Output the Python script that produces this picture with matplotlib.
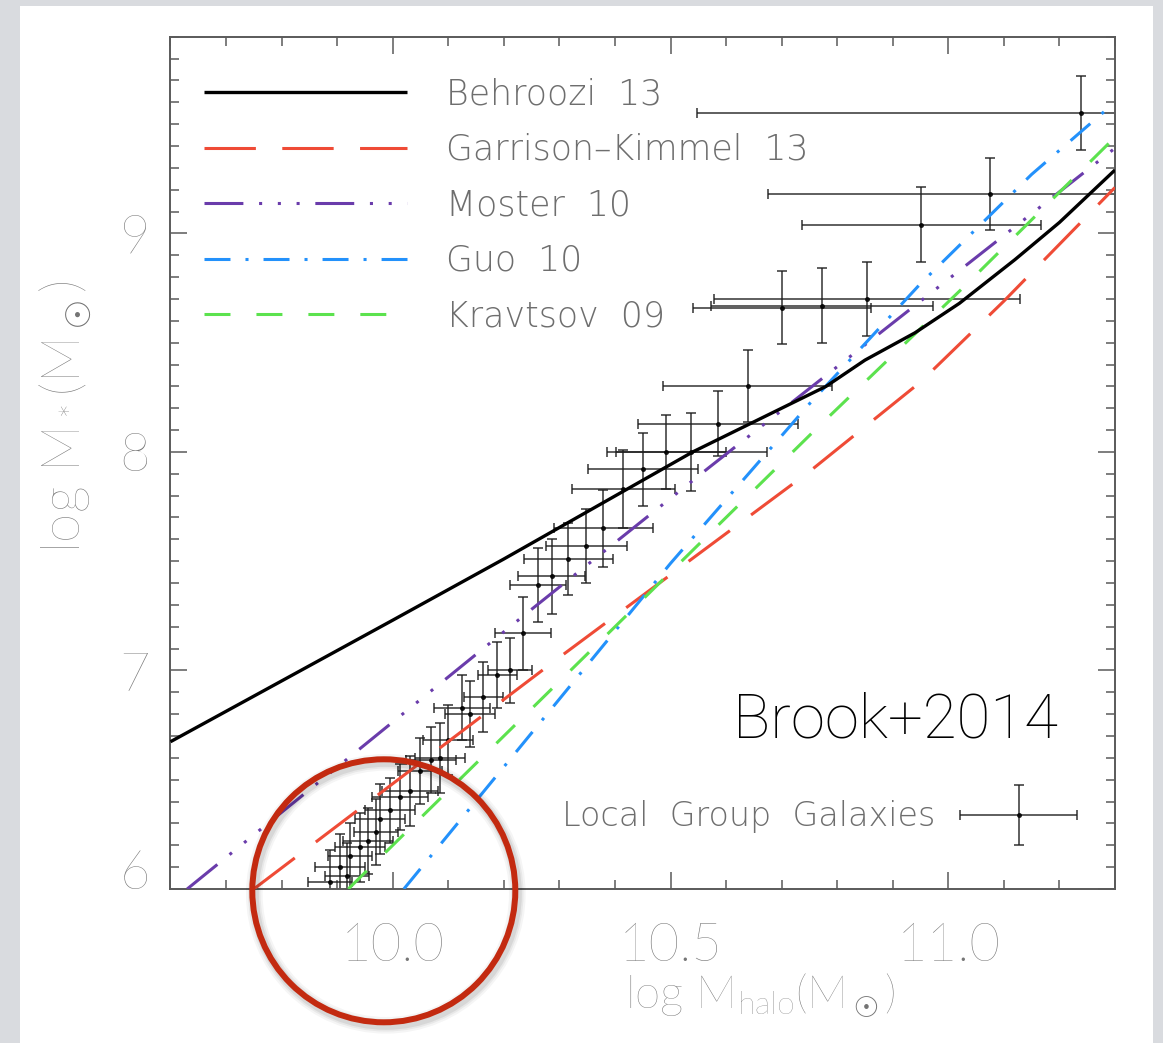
import matplotlib.pyplot as plt
from matplotlib.patches import Circle, Rectangle
from matplotlib.legend_handler import HandlerErrorbar
from matplotlib.container import ErrorbarContainer
from matplotlib.ticker import MultipleLocator

plt.rcParams['lines.scale_dashes'] = False
plt.rcParams['mathtext.fontset'] = 'custom'
plt.rcParams['mathtext.rm'] = 'Lato:light'
plt.rcParams['mathtext.it'] = 'Lato:light'

# abundance matching relations, log M_halo -> log M_star
behroozi_x = [9.6, 10.0, 10.2, 10.54, 10.78, 10.85, 10.94, 11.02, 11.12, 11.2, 11.3]
behroozi_y = [6.674, 7.23, 7.51, 8.0, 8.3, 8.42, 8.545, 8.68, 8.88, 9.05, 9.29]

gk_x = [9.75, 10.3, 10.75, 10.95, 11.1, 11.3]
gk_y = [6.0, 7.06, 7.91, 8.32, 8.69, 9.21]

moster_x = [9.63, 10.25, 10.57, 10.72, 11.04, 11.3]
moster_y = [6.0, 7.28, 7.93, 8.23, 8.87, 9.39]

guo_x = [10.02, 10.5, 10.75, 10.95, 11.15, 11.3]
guo_y = [6.0, 7.49, 8.22, 8.77, 9.27, 9.6]

kravtsov_x = [9.92, 10.4, 10.76, 11.03, 11.3]
kravtsov_y = [6.0, 7.2, 8.1, 8.76, 9.44]

# Local Group galaxies
lg_mhalo = [11.238, 11.075, 10.951, 10.854, 10.773, 10.701, 10.639, 10.586,
            10.537, 10.492, 10.451, 10.415, 10.379, 10.348, 10.316, 10.286,
            10.261, 10.234, 10.211, 10.188, 10.163, 10.139, 10.125, 10.100,
            10.085, 10.069, 10.049, 10.031, 10.013, 9.995, 9.977, 9.970,
            9.956, 9.941, 9.923, 9.905, 9.918, 9.887]
lg_mstar = [9.55, 9.18, 9.04, 8.70, 8.67, 8.66, 8.30, 8.13,
            8.00, 8.00, 7.92, 7.83, 7.65, 7.57, 7.51, 7.43,
            7.39, 7.17, 7.00, 6.98, 6.88, 6.80, 6.83, 6.68,
            6.60, 6.59, 6.54, 6.45, 6.42, 6.36, 6.32, 6.26,
            6.22, 6.19, 6.15, 6.10, 6.06, 6.03]
lg_mhalo_err = [0.69, 0.40, 0.215, 0.275, 0.20, 0.16, 0.152, 0.144,
                0.136, 0.107, 0.099, 0.093, 0.089, 0.073, 0.08, 0.06,
                0.05, 0.05, 0.04, 0.035, 0.035, 0.045, 0.05, 0.045,
                0.045, 0.045, 0.04, 0.05, 0.05, 0.045, 0.045, 0.04,
                0.045, 0.045, 0.04, 0.045, 0.04, 0.04]
lg_mstar_err = [0.17, 0.166, 0.17, 0.17, 0.17, 0.168, 0.165, 0.15,
                0.18, 0.168, 0.168, 0.179, 0.175, 0.17, 0.165, 0.17,
                0.17, 0.168, 0.15, 0.15, 0.16, 0.15, 0.15, 0.16,
                0.16, 0.15, 0.15, 0.16, 0.15, 0.15, 0.16, 0.15,
                0.15, 0.16, 0.15, 0.15, 0.15, 0.15]

THIN = ['Lato', 'DejaVu Sans']
KEYFONT = ['DejaVu Sans']
GREY_TXT = '#747474'
KEY_TXT = '#6e6e6e'
AXCOL = '#5a5a5a'

fig = plt.figure(figsize=(11.63, 10.43), dpi=100)
fig.patch.set_facecolor('#d9dbdf')
fig.add_artist(Rectangle((20 / 1163, 0), 1133 / 1163, 1037 / 1043,
                         transform=fig.transFigure, facecolor='white',
                         edgecolor='none', zorder=0))

ax = fig.add_axes([0.1466, 0.14765, 0.8121, 0.81716])
ax.set_xlim(9.6, 11.3)
ax.set_ylim(6.0, 9.9)

eb = ax.errorbar(lg_mhalo, lg_mstar, xerr=lg_mhalo_err, yerr=lg_mstar_err,
                 fmt='o', ms=2.6, color='black', ecolor='#1e1e1e',
                 elinewidth=1.25, capsize=3.6, capthick=1.25, alpha=0.8,
                 zorder=2)

l_beh, = ax.plot(behroozi_x, behroozi_y, color='black', lw=2.4,
                 solid_capstyle='butt', zorder=4)
l_gk, = ax.plot(gk_x, gk_y, color='#ef4b36', lw=2.2, dashes=(37, 19),
                dash_capstyle='butt', zorder=3)
l_mos, = ax.plot(moster_x, moster_y, color='#6a3cab', lw=2.2,
                 dashes=(28, 11.3, 2.2, 11.3, 2.2, 11.3, 2.2, 11.3),
                 dash_capstyle='butt', zorder=3)
l_guo, = ax.plot(guo_x, guo_y, color='#2391fb', lw=2.2,
                 dashes=(18.7, 10.8, 2.2, 10.8), dash_capstyle='butt', zorder=3)
l_kra, = ax.plot(kravtsov_x, kravtsov_y, color='#5ce24e', lw=2.2,
                 dashes=(18.7, 18.7), dash_capstyle='butt', zorder=3)

# axes frame and ticks
ax.set_xticks([10.0, 10.5, 11.0])
ax.set_xticklabels(['10.0', '10.5', '11.0'])
ax.set_yticks([6, 7, 8, 9])
ax.set_yticklabels(['6', '7', '8', '9'])
ax.xaxis.set_minor_locator(MultipleLocator(0.1))
ax.yaxis.set_minor_locator(MultipleLocator(0.1))
ax.tick_params(which='both', direction='in', top=True, right=True,
               color=AXCOL, width=1.1, labelcolor='#767676', labelsize=38)
ax.tick_params(which='major', length=12.5)
ax.tick_params(which='minor', length=6.8)
ax.tick_params(axis='y', pad=14.5)
ax.tick_params(axis='x', pad=24)
for lab in ax.get_xticklabels() + ax.get_yticklabels():
    lab.set_family(THIN)
    lab.set_weight('light')
ax.get_yticklabels()[0].set_va('baseline')
for sp in ax.spines.values():
    sp.set_color(AXCOL)
    sp.set_linewidth(1.4)

# model legend, top left
leg1 = ax.legend([l_beh, l_gk, l_mos, l_guo, l_kra],
                 ['Behroozi  13', 'Garrison\u2013Kimmel  13', 'Moster  10',
                  'Guo  10', 'Kravtsov  09'],
                 loc='upper left', bbox_to_anchor=(0.0355, 0.9525),
                 frameon=False, borderpad=0, borderaxespad=0,
                 handlelength=5.85, handletextpad=1.12, labelspacing=0.62,
                 prop={'family': KEYFONT, 'weight': 'light', 'size': 25},
                 labelcolor=KEY_TXT)
ax.add_artist(leg1)

# data legend, bottom right
ax.legend([eb], ['Local  Group  Galaxies'], loc='center right',
          bbox_to_anchor=(0.9598, 0.0845), frameon=False, borderpad=0,
          borderaxespad=0, markerfirst=False, handlelength=3.5,
          handletextpad=0.75,
          handler_map={ErrorbarContainer: HandlerErrorbar(xerr_size=1.75,
                                                          yerr_size=0.9)},
          prop={'family': KEYFONT, 'weight': 'light', 'size': 24},
          labelcolor=KEY_TXT)

fig.text(760 / 1163, 35 / 1043, r'log M$_{\rm halo}$(M$_\odot$)',
         ha='center', va='baseline', fontsize=33, color=GREY_TXT,
         family=THIN, weight='light')
fig.text(65 / 1163, (1043 - 417) / 1043, r'log M$_*$(M$_\odot$)',
         ha='center', va='center', rotation=90, fontsize=38, color=GREY_TXT,
         family=THIN, weight='light')

fig.text(733 / 1163, (1043 - 738) / 1043, 'Brook+2014', ha='left',
         va='baseline', fontsize=44.5, color='black',
         family=['Roboto', 'DejaVu Sans'], weight='light')

# highlight ring around the faint end
cx, cy, r = 3.838, (1043 - 890.8) / 100, 1.315
for w, a in [(12, 0.04), (9, 0.05), (6.5, 0.07)]:
    fig.add_artist(Circle((cx + 0.02, cy - 0.03), r, transform=fig.dpi_scale_trans,
                          fill=False, ec='black', lw=w, alpha=a, zorder=9))
fig.add_artist(Circle((cx, cy), r, transform=fig.dpi_scale_trans, fill=False,
                      ec='#c32a10', lw=4.3, zorder=10))

fig.savefig('out.png', dpi=100, facecolor=fig.get_facecolor())
